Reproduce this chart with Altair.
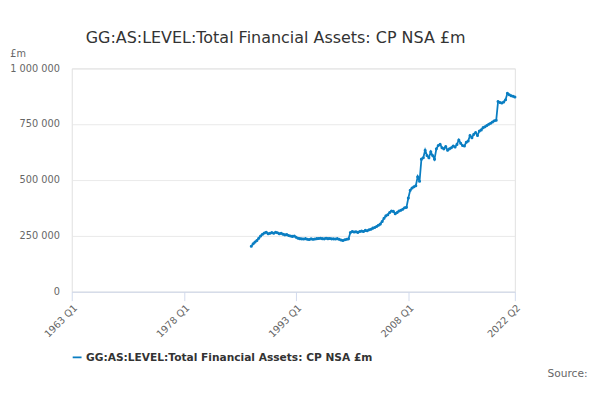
import pandas as pd
import altair as alt

series_name = 'GG:AS:LEVEL:Total Financial Assets: CP NSA £m'
start_year = 1987
# quarterly values, £ thousand million, 1987 Q1 .. 2022 Q2
values_k = [
    204, 215, 223, 230,  240, 250, 258, 263,  267, 260, 262, 265,
    262, 267, 264, 260,  262, 258, 255, 256,  252, 250, 248, 250,
    244, 240, 238, 237,  236, 238, 235, 234,  237, 235, 236, 238,
    239, 240, 238, 237,  240, 238, 239, 237,  237, 236, 238, 235,
    232, 230, 233, 235,  237, 265, 270, 268,  269, 266, 270, 272,
    270, 275, 273, 278,  280, 285, 288, 292,  298, 303, 315, 329,
    340, 345, 355, 362,  360, 350, 355, 362,  365, 370, 376, 378,
    420, 455, 465, 470,  475, 515, 495, 594,  600, 634, 610, 600,
    627, 610, 594, 640,  655, 660, 645, 640,  650, 634, 640, 645,
    653, 648, 660, 680,  665, 655, 653, 670,  675, 700, 690, 705,
    713, 700, 720, 725,  735, 739, 745, 750,  755, 760, 766, 768,
    852, 848, 845, 850,  860, 889, 882, 878,  876, 872,
]
tick_pos = [1963, 1978, 1993, 2008, 2022.25]
tick_labels = ['1963 Q1', '1978 Q1', '1993 Q1', '2008 Q1', '2022 Q2']

rows = []
for i, v in enumerate(values_k):
    y = start_year + i // 4
    q = i % 4 + 1
    rows.append({'t': y + (q - 1) / 4, 'label': f'{y} Q{q}', 'value': v * 1000, 'series': series_name})
df = pd.DataFrame(rows)

label_expr = ' : '.join(f"datum.value == {p} ? '{l}'" for p, l in zip(tick_pos, tick_labels)) + " : ''"

chart = alt.Chart(df).mark_line(
    point=alt.OverlayMarkDef(size=12, filled=True), strokeWidth=2
).encode(
    x=alt.X('t:Q', title=None, scale=alt.Scale(domain=[1963, 2022.25], nice=False, zero=False),
            axis=alt.Axis(values=tick_pos, labelExpr=label_expr, labelAngle=-45, grid=False,
                          domainColor='#ccd6eb', tickColor='#ccd6eb', tickSize=10,
                          labelColor='#666', labelFontSize=11)),
    y=alt.Y('value:Q', title='£m', scale=alt.Scale(domain=[0, 1000000]),
            axis=alt.Axis(values=[0, 250000, 500000, 750000, 1000000],
                          labelExpr="replace(format(datum.value, ','), regexp(',', 'g'), ' ')",
                          titleAngle=0, titleAlign='left', titleY=-12, titleX=-70,
                          titleFontWeight='normal', titleColor='#666', titleFontSize=11,
                          domain=False, ticks=False, gridColor='#e6e6e6', labelPadding=14,
                          labelColor='#666', labelFontSize=11)),
    color=alt.Color('series:N', scale=alt.Scale(range=['#0a7ec2']),
                    legend=alt.Legend(title=None, orient='bottom', labelFontSize=12,
                                      labelFontWeight='bold', labelColor='#333', labelLimit=500,
                                      symbolType='stroke', symbolStrokeWidth=2, offset=14)),
    tooltip=['label', 'value'],
).properties(
    width=500, height=252,
    title=alt.TitleParams(series_name, fontSize=18,
                          fontWeight='normal', color='#333', anchor='middle', offset=2, dx=-20),
)

source_df = pd.DataFrame({'text': ['Source:']})
source = alt.Chart(source_df).mark_text(align='right', fontSize=12, color='#666').encode(
    text='text:N', x=alt.value(582), y=alt.value(344))

final = (chart + source).properties(padding={'left': 2, 'top': 0, 'right': 5, 'bottom': 0}) \
    .configure_view(stroke=None).configure(font='DejaVu Sans')
final.save('out.html', embed_options={'renderer': 'svg', 'actions': False})
